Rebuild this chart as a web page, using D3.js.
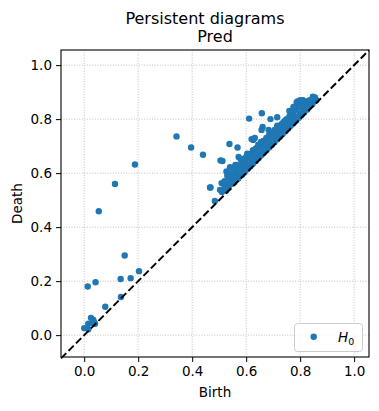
<!DOCTYPE html>
<html>
<head>
<meta charset="utf-8">
<script src="https://cdn.jsdelivr.net/npm/d3@7"></script>
<style>
  body { margin: 0; background: #fff; }
  text { font-family: "DejaVu Sans", sans-serif; fill: #000; }
</style>
</head>
<body>
<svg id="chart" width="379" height="411"></svg>
<script>
// persistence pairs (birth, death)
var birth = [0.054, 0.114, 0.188, 0.342, 0.396, 0.440, 0.466, 0.150, 0.203, 0.172, 0.135, 0.042, 0.013,
  0.136, 0.078, 0.025, 0.033, 0.015, 0.040, 0.000, 0.015, 0.036, 0.030,
  0.611, 0.658, 0.690, 0.715, 0.715, 0.661, 0.683, 0.632, 0.620, 0.538, 0.568, 0.505, 0.512, 0.572, 0.604,
  0.540, 0.527, 0.468, 0.484, 0.847, 0.787, 0.503, 0.509, 0.589, 0.601, 0.626, 0.657, 0.639, 0.570,
  0.53, 0.535, 0.54, 0.545, 0.55, 0.55, 0.555, 0.56, 0.56, 0.565, 0.57, 0.57, 0.575, 0.58, 0.58, 0.585,
  0.59, 0.59, 0.595, 0.60, 0.60, 0.605, 0.61, 0.61, 0.615, 0.62, 0.62, 0.625, 0.63, 0.63, 0.635, 0.64,
  0.64, 0.645, 0.65, 0.65, 0.655, 0.66, 0.66, 0.665, 0.67, 0.67, 0.675, 0.68, 0.68, 0.685, 0.69, 0.69,
  0.695, 0.70, 0.70, 0.705, 0.71, 0.71, 0.715, 0.72, 0.72, 0.725, 0.73, 0.73, 0.735, 0.74, 0.74, 0.745,
  0.75, 0.75, 0.755, 0.76, 0.76, 0.765, 0.77, 0.77, 0.775, 0.78, 0.78, 0.785, 0.79, 0.79, 0.795, 0.80,
  0.80, 0.805, 0.81, 0.81, 0.815, 0.82, 0.82, 0.825, 0.83, 0.835, 0.84, 0.845, 0.85, 0.86, 0.855,
  0.52, 0.53, 0.545, 0.555, 0.565, 0.575, 0.585, 0.595, 0.605, 0.615, 0.625, 0.635, 0.645, 0.655,
  0.665, 0.675, 0.685, 0.695, 0.705, 0.715, 0.725, 0.735, 0.745, 0.755, 0.765, 0.775, 0.785, 0.795,
  0.805, 0.815, 0.79, 0.80, 0.81, 0.825, 0.835, 0.775, 0.76, 0.56, 0.58, 0.52, 0.51, 0.525];
var death = [0.459, 0.560, 0.632, 0.736, 0.695, 0.668, 0.547, 0.295, 0.237, 0.211, 0.208, 0.196, 0.180,
  0.141, 0.105, 0.064, 0.057, 0.042, 0.042, 0.026, 0.022, 0.050, 0.045,
  0.802, 0.822, 0.800, 0.807, 0.776, 0.771, 0.760, 0.730, 0.726, 0.708, 0.695, 0.647, 0.645, 0.660, 0.672,
  0.622, 0.606, 0.547, 0.497, 0.883, 0.862, 0.538, 0.563, 0.624, 0.661, 0.723, 0.760, 0.693, 0.581,
  0.56, 0.545, 0.58, 0.56, 0.57, 0.59, 0.565, 0.60, 0.575, 0.585, 0.58, 0.61, 0.59, 0.60, 0.625, 0.595,
  0.61, 0.64, 0.605, 0.62, 0.65, 0.615, 0.63, 0.66, 0.625, 0.64, 0.67, 0.635, 0.65, 0.68, 0.645, 0.66,
  0.69, 0.655, 0.67, 0.70, 0.665, 0.68, 0.71, 0.675, 0.69, 0.72, 0.685, 0.70, 0.73, 0.695, 0.71, 0.74,
  0.705, 0.72, 0.75, 0.715, 0.73, 0.755, 0.725, 0.74, 0.77, 0.735, 0.75, 0.78, 0.745, 0.76, 0.79, 0.755,
  0.77, 0.80, 0.765, 0.78, 0.81, 0.775, 0.79, 0.82, 0.785, 0.80, 0.84, 0.795, 0.81, 0.85, 0.805, 0.82,
  0.86, 0.815, 0.83, 0.85, 0.825, 0.84, 0.86, 0.835, 0.845, 0.85, 0.855, 0.855, 0.865, 0.87, 0.88,
  0.57, 0.59, 0.60, 0.62, 0.63, 0.615, 0.64, 0.655, 0.665, 0.67, 0.685, 0.69, 0.705, 0.715,
  0.72, 0.73, 0.74, 0.745, 0.76, 0.765, 0.775, 0.785, 0.795, 0.80, 0.81, 0.825, 0.835, 0.845,
  0.85, 0.86, 0.865, 0.87, 0.87, 0.865, 0.87, 0.845, 0.83, 0.63, 0.65, 0.55, 0.53, 0.535];
var tickVals = [0.0, 0.2, 0.4, 0.6, 0.8, 1.0];
var lims = [-0.086, 1.055];

var svg = d3.select("#chart");
var pLeft = 61, pRight = 369, pTop = 50, pBottom = 357;

var x = d3.scaleLinear().domain(lims).range([pLeft, pRight]);
var y = d3.scaleLinear().domain([-0.081, 1.056]).range([pBottom, pTop]);

// grid
var grid = svg.append("g");
grid.selectAll(".gx").data(tickVals).enter().append("line")
    .attr("x1", d => x(d)).attr("x2", d => x(d))
    .attr("y1", pTop).attr("y2", pBottom)
    .attr("stroke", "#b0b0b0").attr("stroke-width", 0.8)
    .attr("stroke-dasharray", "1,1.6");
grid.selectAll(".gy").data(tickVals).enter().append("line")
    .attr("y1", d => y(d)).attr("y2", d => y(d))
    .attr("x1", pLeft).attr("x2", pRight)
    .attr("stroke", "#b0b0b0").attr("stroke-width", 0.8)
    .attr("stroke-dasharray", "1,1.6");

// points
var pts = birth.map((b, i) => [b, death[i]]);
svg.append("g").selectAll("circle")
    .data(pts).enter().append("circle")
    .attr("cx", d => x(d[0]))
    .attr("cy", d => y(d[1]))
    .attr("r", 3.2)
    .attr("fill", "#1f77b4");

// diagonal
svg.append("line")
    .attr("x1", x(lims[0])).attr("y1", y(lims[0]))
    .attr("x2", x(lims[1])).attr("y2", y(lims[1]))
    .attr("stroke", "#000").attr("stroke-width", 2)
    .attr("stroke-dasharray", "7.4,3.2");

// axes
var fmt = d3.format(".1f");
var xAxis = svg.append("g")
    .attr("transform", "translate(0," + pBottom + ")")
    .call(d3.axisBottom(x).tickValues(tickVals).tickFormat(fmt).tickSize(5).tickPadding(4));
var yAxis = svg.append("g")
    .attr("transform", "translate(" + pLeft + ",0)")
    .call(d3.axisLeft(y).tickValues(tickVals).tickFormat(fmt).tickSize(5).tickPadding(4));
[xAxis, yAxis].forEach(function(a) {
    a.select(".domain").remove();
    a.selectAll("text").style("font-size", "13.5px").attr("fill", "#000");
    a.selectAll("line").attr("stroke", "#000").attr("stroke-width", 1);
});

svg.append("rect")
    .attr("x", pLeft).attr("y", pTop)
    .attr("width", pRight - pLeft).attr("height", pBottom - pTop)
    .attr("fill", "none").attr("stroke", "#000").attr("stroke-width", 1.1);

// titles and labels
svg.append("text").attr("x", 205).attr("y", 24)
    .attr("text-anchor", "middle").style("font-size", "16px")
    .text("Persistent diagrams");
svg.append("text").attr("x", (pLeft + pRight) / 2).attr("y", 42)
    .attr("text-anchor", "middle").style("font-size", "16px")
    .text("Pred");
svg.append("text").attr("x", (pLeft + pRight) / 2).attr("y", 397)
    .attr("text-anchor", "middle").style("font-size", "13.5px")
    .text("Birth");
svg.append("text")
    .attr("transform", "translate(22," + (pTop + pBottom) / 2 + ") rotate(-90)")
    .attr("text-anchor", "middle").style("font-size", "13.5px")
    .text("Death");

// legend
var lg = svg.append("g");
lg.append("rect")
    .attr("x", 294.5).attr("y", 323.5).attr("width", 68).attr("height", 28)
    .attr("rx", 3).attr("fill", "#fff").attr("fill-opacity", 0.8)
    .attr("stroke", "#cccccc").attr("stroke-width", 1);
lg.append("circle").attr("cx", 313.7).attr("cy", 336.7).attr("r", 3.2).attr("fill", "#1f77b4");
var lt = lg.append("text").attr("x", 338).attr("y", 341.5).style("font-size", "13.5px");
lt.append("tspan").style("font-style", "italic").text("H");
lt.append("tspan").attr("dy", 3).style("font-size", "9.5px").text("0");
</script>
</body>
</html>
